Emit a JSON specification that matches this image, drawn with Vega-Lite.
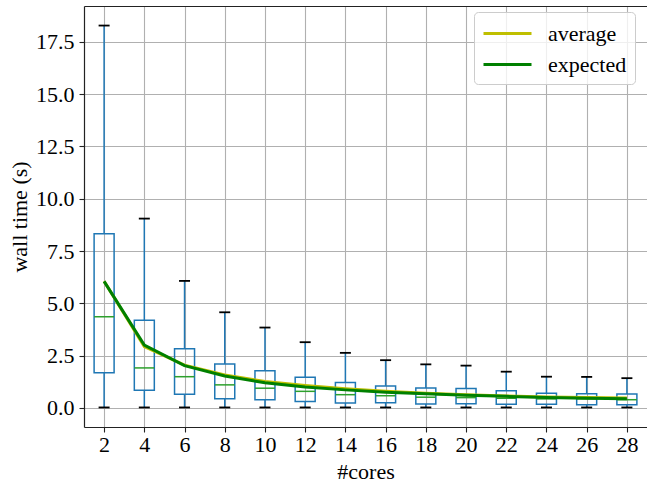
{
  "$schema": "https://vega.github.io/schema/vega-lite/v6.json",
  "autosize": {"type": "none"},
  "padding": {"left": 84, "top": 6, "right": 0, "bottom": 55},
  "width": 563,
  "height": 421,
  "background": "white",
  "config": {
    "view": {"stroke": null},
    "font": "Liberation Serif",
    "axis": {
      "labelFont": "Liberation Serif",
      "titleFont": "Liberation Serif",
      "labelFontSize": 22,
      "titleFontSize": 22,
      "titleFontWeight": "normal",
      "labelColor": "#000000",
      "titleColor": "#000000",
      "domainColor": "#222222",
      "domainWidth": 1.2,
      "tickColor": "#222222",
      "tickWidth": 1.1,
      "tickSize": 5,
      "gridColor": "#b0b0b0",
      "gridWidth": 1.1
    }
  },
  "datasets": {
    "boxes": [
      {"cores": 2, "whislo": 0.02, "q1": 1.68, "med": 4.36, "q3": 8.33, "whishi": 18.28},
      {"cores": 4, "whislo": 0.02, "q1": 0.84, "med": 1.91, "q3": 4.19, "whishi": 9.05},
      {"cores": 6, "whislo": 0.02, "q1": 0.65, "med": 1.49, "q3": 2.83, "whishi": 6.07},
      {"cores": 8, "whislo": 0.02, "q1": 0.43, "med": 1.1, "q3": 2.1, "whishi": 4.57},
      {"cores": 10, "whislo": 0.02, "q1": 0.39, "med": 0.94, "q3": 1.78, "whishi": 3.84},
      {"cores": 12, "whislo": 0.02, "q1": 0.3, "med": 0.79, "q3": 1.46, "whishi": 3.14},
      {"cores": 14, "whislo": 0.02, "q1": 0.23, "med": 0.63, "q3": 1.21, "whishi": 2.63},
      {"cores": 16, "whislo": 0.02, "q1": 0.25, "med": 0.58, "q3": 1.05, "whishi": 2.28},
      {"cores": 18, "whislo": 0.02, "q1": 0.19, "med": 0.51, "q3": 0.95, "whishi": 2.08},
      {"cores": 20, "whislo": 0.02, "q1": 0.2, "med": 0.49, "q3": 0.92, "whishi": 2.02},
      {"cores": 22, "whislo": 0.02, "q1": 0.17, "med": 0.46, "q3": 0.82, "whishi": 1.73},
      {"cores": 24, "whislo": 0.02, "q1": 0.17, "med": 0.43, "q3": 0.7, "whishi": 1.49},
      {"cores": 26, "whislo": 0.02, "q1": 0.15, "med": 0.43, "q3": 0.68, "whishi": 1.48},
      {"cores": 28, "whislo": 0.02, "q1": 0.15, "med": 0.39, "q3": 0.66, "whishi": 1.42}
    ],
    "lines": [
      {"cores": 2, "series": "average", "value": 6.05},
      {"cores": 4, "series": "average", "value": 2.93},
      {"cores": 6, "series": "average", "value": 2.04},
      {"cores": 8, "series": "average", "value": 1.57},
      {"cores": 10, "series": "average", "value": 1.26},
      {"cores": 12, "series": "average", "value": 1.07},
      {"cores": 14, "series": "average", "value": 0.91},
      {"cores": 16, "series": "average", "value": 0.79},
      {"cores": 18, "series": "average", "value": 0.7},
      {"cores": 20, "series": "average", "value": 0.63},
      {"cores": 22, "series": "average", "value": 0.57},
      {"cores": 24, "series": "average", "value": 0.52},
      {"cores": 26, "series": "average", "value": 0.49},
      {"cores": 28, "series": "average", "value": 0.47},
      {"cores": 2, "series": "expected", "value": 6.05},
      {"cores": 4, "series": "expected", "value": 3.0},
      {"cores": 6, "series": "expected", "value": 2.02},
      {"cores": 8, "series": "expected", "value": 1.52},
      {"cores": 10, "series": "expected", "value": 1.2},
      {"cores": 12, "series": "expected", "value": 1.0},
      {"cores": 14, "series": "expected", "value": 0.86},
      {"cores": 16, "series": "expected", "value": 0.75},
      {"cores": 18, "series": "expected", "value": 0.67},
      {"cores": 20, "series": "expected", "value": 0.6},
      {"cores": 22, "series": "expected", "value": 0.55},
      {"cores": 24, "series": "expected", "value": 0.5},
      {"cores": 26, "series": "expected", "value": 0.46},
      {"cores": 28, "series": "expected", "value": 0.43}
    ]
  },
  "resolve": {"axis": {"x": "independent"}},
  "layer": [
    {
      "data": {"name": "boxes"},
      "mark": {"type": "rule", "color": "#1f77b4", "strokeWidth": 1.5},
      "encoding": {
        "x": {"field": "cores", "type": "quantitative",
              "scale": {"domain": [1, 29], "nice": false, "zero": false, "padding": 0},
              "axis": {"orient": "bottom", "values": [2,4,6,8,10,12,14,16,18,20,22,24,26,28], "title": "#cores", "labelPadding": 2, "titlePadding": 6, "grid": true, "labelFlush": false}},
        "y": {"field": "whislo", "type": "quantitative", "title": "wall time (s)",
              "scale": {"domain": [-0.915, 19.215], "nice": false, "zero": false, "padding": 0},
              "axis": {"values": [0, 2.5, 5, 7.5, 10, 12.5, 15, 17.5], "format": ".1f", "grid": true, "labelPadding": 5, "titlePadding": 4, "labelFlush": false}},
        "y2": {"field": "q1"}
      }
    },
    {
      "data": {"name": "boxes"},
      "mark": {"type": "rule", "color": "#1f77b4", "strokeWidth": 1.5},
      "encoding": {
        "x": {"field": "cores", "type": "quantitative",
              "axis": {"orient": "top", "labels": false, "ticks": false, "grid": false, "title": null, "domain": true}},
        "y": {"field": "q3", "type": "quantitative", "title": "wall time (s)"},
        "y2": {"field": "whishi"}
      }
    },
    {
      "data": {"name": "boxes"},
      "mark": {"type": "bar", "orient": "vertical", "size": 20, "fill": "transparent", "stroke": "#1f77b4", "strokeWidth": 1.5},
      "encoding": {
        "x": {"field": "cores", "type": "quantitative", "axis": null},
        "y": {"field": "q1", "type": "quantitative", "title": "wall time (s)"},
        "y2": {"field": "q3"}
      }
    },
    {
      "data": {"name": "boxes"},
      "mark": {"type": "tick", "orient": "horizontal", "size": 20, "thickness": 1.5, "color": "#2ca02c", "opacity": 1},
      "encoding": {
        "x": {"field": "cores", "type": "quantitative", "axis": null},
        "y": {"field": "med", "type": "quantitative", "title": "wall time (s)"}
      }
    },
    {
      "data": {"name": "boxes"},
      "mark": {"type": "tick", "orient": "horizontal", "size": 11, "thickness": 1.8, "color": "#000000", "opacity": 1},
      "encoding": {
        "x": {"field": "cores", "type": "quantitative", "axis": null},
        "y": {"field": "whislo", "type": "quantitative", "title": "wall time (s)"}
      }
    },
    {
      "data": {"name": "boxes"},
      "mark": {"type": "tick", "orient": "horizontal", "size": 11, "thickness": 1.8, "color": "#000000", "opacity": 1},
      "encoding": {
        "x": {"field": "cores", "type": "quantitative", "axis": null},
        "y": {"field": "whishi", "type": "quantitative", "title": "wall time (s)"}
      }
    },
    {
      "data": {"name": "lines"},
      "mark": {"type": "line", "strokeWidth": 3},
      "encoding": {
        "x": {"field": "cores", "type": "quantitative", "axis": null},
        "y": {"field": "value", "type": "quantitative", "title": "wall time (s)"},
        "color": {"field": "series", "type": "nominal",
                  "scale": {"domain": ["average", "expected"], "range": ["#bfbf00", "#008000"]},
                  "legend": {"title": null, "orient": "none", "legendX": 390, "legendY": 6,
                             "symbolType": "M-1,0H3", "symbolSize": 576, "symbolStrokeWidth": 3,
                             "labelFont": "Liberation Serif", "labelFontSize": 22, "labelColor": "#000000",
                             "labelOffset": 39, "rowPadding": 6, "padding": 8,
                             "fillColor": "rgba(255,255,255,0.8)", "strokeColor": "#cccccc", "cornerRadius": 4}}
      }
    }
  ]
}
